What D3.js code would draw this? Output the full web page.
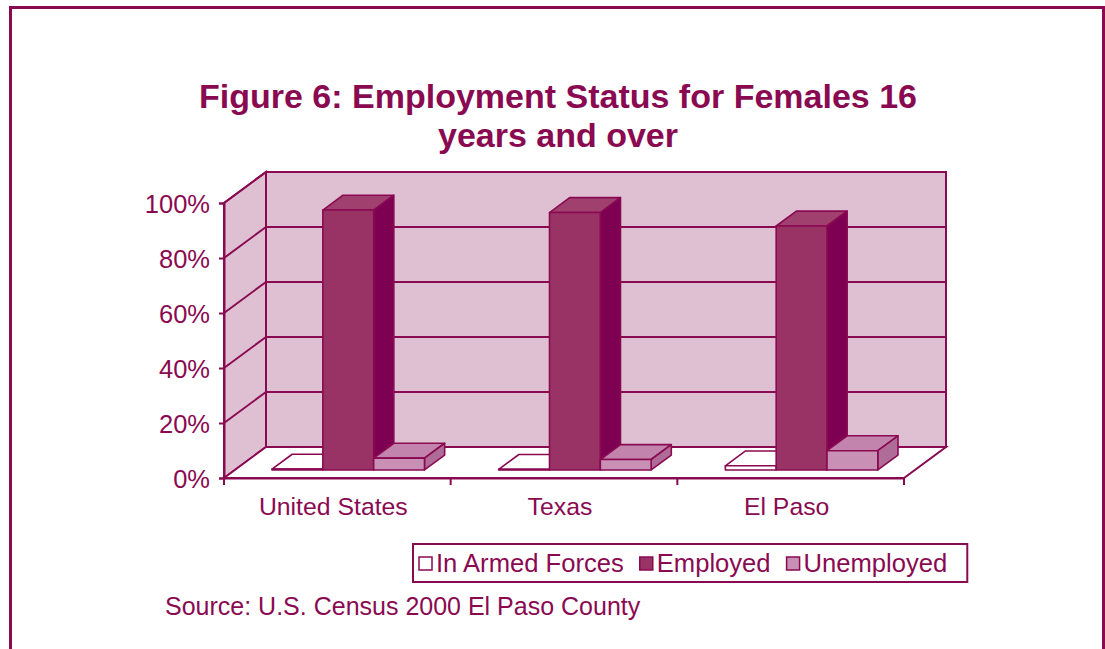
<!DOCTYPE html>
<html><head><meta charset="utf-8">
<script src="https://cdn.jsdelivr.net/npm/d3@7"></script>
<style>
html,body{margin:0;padding:0;background:#fff;}
svg{display:block;font-family:"Liberation Sans",Arial,sans-serif;}
</style></head>
<body>
<svg id="chart" width="1105" height="649"></svg>
<script>
const categories = ["United States", "Texas", "El Paso"];
const series = ["In Armed Forces", "Employed", "Unemployed"];
const armedForces = [0.3, 0.2, 1.5];
const employed = [94.5, 93.6, 88.7];
const unemployed = [4.3, 3.8, 7.0];
const yTicks = [0, 20, 40, 60, 80, 100];
const titleLines = ["Figure 6: Employment Status for Females 16", "years and over"];
const sourceText = "Source: U.S. Census 2000 El Paso County";

const seriesValues = [armedForces, employed, unemployed];
const INK = "#8A0A52";
const faces = {
  "In Armed Forces": {front: "#FFFFFF", top: "#FFFFFF", side: "#FFFFFF"},
  "Employed": {front: "#993366", top: "#A0406F", side: "#7D0052"},
  "Unemployed": {front: "#C890B4", top: "#C283AC", side: "#B06C98"}
};

const svg = d3.select("#chart");

// outer frame
svg.append("rect").attr("x", 10.5).attr("y", 7.5).attr("width", 1093).attr("height", 660)
  .attr("fill", "none").attr("stroke", INK).attr("stroke-width", 3);

// title
svg.append("text").attr("x", 558).attr("y", 108).attr("text-anchor", "middle")
  .attr("font-size", 34).attr("font-weight", "bold").attr("fill", INK)
  .selectAll("tspan").data(titleLines).join("tspan")
  .attr("x", 558).attr("dy", (d, i) => i === 0 ? 0 : 39).text(d => d);

// scales (front plane)
const x = d3.scaleBand().domain(categories).range([224, 904]);
const sub = d3.scaleBand().domain(series).range([0, x.bandwidth()]).paddingInner(0).paddingOuter(0.73);
const y = d3.scaleLinear().domain([0, 100]).range([478, 203]);
const DX = 42, DY = -31;      // depth offset of the back wall
const Z0 = 0.26, Z1 = 0.74;   // bar depth (fraction)
const P = (px, v, z) => [px + z * DX, y(v) + z * DY];
const poly = pts => "M" + pts.map(p => p.join(",")).join("L") + "Z";

const x0 = x.range()[0], x1 = x.range()[1];
const g = svg.append("g");

// back wall
g.append("path").attr("d", poly([P(x0, 0, 1), P(x1, 0, 1), P(x1, 100, 1), P(x0, 100, 1)]))
  .attr("fill", "#DFC0D3").attr("stroke", INK).attr("stroke-width", 2);
// side wall
g.append("path").attr("d", poly([P(x0, 0, 0), P(x0, 0, 1), P(x0, 100, 1), P(x0, 100, 0)]))
  .attr("fill", "#DFC0D3").attr("stroke", INK).attr("stroke-width", 2);
// floor
g.append("path").attr("d", poly([P(x0, 0, 0), P(x1, 0, 0), P(x1, 0, 1), P(x0, 0, 1)]))
  .attr("fill", "#FFFFFF").attr("stroke", INK).attr("stroke-width", 2);

// gridlines on back and side walls
yTicks.filter(t => t > 0 && t < 100).forEach(t => {
  g.append("line").attr("x1", P(x0, t, 1)[0]).attr("y1", P(x0, t, 1)[1])
    .attr("x2", P(x1, t, 1)[0]).attr("y2", P(x1, t, 1)[1])
    .attr("stroke", INK).attr("stroke-width", 2);
});
yTicks.filter(t => t > 0).forEach(t => {
  g.append("line").attr("x1", P(x0, t, 0)[0]).attr("y1", P(x0, t, 0)[1])
    .attr("x2", P(x0, t, 1)[0]).attr("y2", P(x0, t, 1)[1])
    .attr("stroke", INK).attr("stroke-width", 2);
});

// bars
categories.forEach((c, ci) => {
  series.forEach((s, si) => {
    const v = seriesValues[si][ci];
    const bx0 = x(c) + sub(s), bx1 = bx0 + sub.bandwidth();
    const col = faces[s];
    const bg = g.append("g").attr("stroke", INK).attr("stroke-width", 1.6).attr("stroke-linejoin", "round");
    bg.append("path").attr("d", poly([P(bx0, v, Z0), P(bx1, v, Z0), P(bx1, v, Z1), P(bx0, v, Z1)])).attr("fill", col.top);
    bg.append("path").attr("d", poly([P(bx1, 0, Z0), P(bx1, 0, Z1), P(bx1, v, Z1), P(bx1, v, Z0)])).attr("fill", col.side);
    bg.append("path").attr("d", poly([P(bx0, 0, Z0), P(bx1, 0, Z0), P(bx1, v, Z0), P(bx0, v, Z0)])).attr("fill", col.front);
  });
});

// value axis
const yAxis = svg.append("g").attr("transform", `translate(${x0},0)`)
  .call(d3.axisLeft(y).tickValues(yTicks).tickFormat(d => d + "%").tickSize(5).tickPadding(9));
yAxis.select(".domain").attr("stroke", INK).attr("stroke-width", 2);
yAxis.selectAll(".tick line").attr("stroke", INK).attr("stroke-width", 2);
yAxis.selectAll(".tick text").attr("fill", INK).attr("font-size", 25.5)
  .attr("font-family", "Liberation Sans, Arial, sans-serif").attr("dy", "0.36em");

// category axis
const xAxis = svg.append("g").attr("transform", `translate(0,${y(0)})`)
  .call(d3.axisBottom(x).tickSize(0).tickPadding(19));
xAxis.select(".domain").attr("stroke", INK).attr("stroke-width", 2);
xAxis.selectAll(".tick text").attr("fill", INK).attr("font-size", 24.8).attr("dx", -4)
  .attr("font-family", "Liberation Sans, Arial, sans-serif");
const bounds = categories.map(c => x(c)).concat([x1]);
xAxis.selectAll("line.bound").data(bounds).join("line").attr("class", "bound")
  .attr("x1", d => d).attr("x2", d => d).attr("y1", 0).attr("y2", 7)
  .attr("stroke", INK).attr("stroke-width", 2);

// legend
const lg = svg.append("g");
const items = lg.selectAll("g").data(series).join("g");
items.append("rect").attr("width", 13).attr("height", 13).attr("y", 557)
  .attr("fill", d => faces[d].front).attr("stroke", INK).attr("stroke-width", 1.5);
items.append("text").attr("y", 572).attr("font-size", 25.6).attr("fill", INK).text(d => d);
let cx = 0;
items.each(function () {
  const it = d3.select(this);
  it.select("rect").attr("x", cx);
  it.select("text").attr("x", cx + 17);
  cx += 17 + it.select("text").node().getComputedTextLength() + 16;
});
const legW = cx - 16;
const legLeft = 419;
lg.attr("transform", `translate(${legLeft},0)`);
lg.insert("rect", ":first-child").attr("x", -6).attr("y", 544).attr("width", legW + 6 + 20).attr("height", 38)
  .attr("fill", "#fff").attr("stroke", INK).attr("stroke-width", 2);

// source
svg.append("text").attr("x", 165).attr("y", 615).attr("font-size", 25).attr("fill", INK).text(sourceText);
</script>
</body></html>
